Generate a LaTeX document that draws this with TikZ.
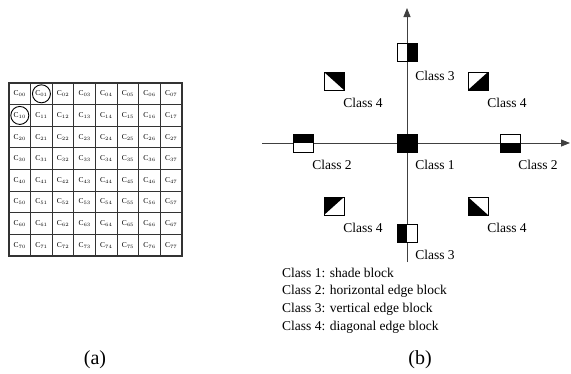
\documentclass[tikz,border=0pt]{standalone}
\usepackage{fontspec}
\setmainfont{Liberation Serif}
\usetikzlibrary{arrows.meta}
\begin{document}
\begin{tikzpicture}[x=1pt,y=-1pt,
  cell/.style={draw=black!80,line width=1.1pt,minimum width=21.6pt,minimum height=21.6pt,inner sep=0pt,font=\fontsize{7.5}{8}\selectfont},
  ring/.style={draw,line width=0.9pt,circle,minimum size=18pt,inner sep=0pt},
  blk/.style={draw,line width=0.8pt,fill=white,minimum width=20pt,minimum height=18pt,inner sep=0pt},
  full/.style={blk,fill=black},
  topblk/.style={blk,path picture={\fill[black] (path picture bounding box.north west) rectangle (path picture bounding box.east);}},
  botblk/.style={blk,path picture={\fill[black] (path picture bounding box.south west) rectangle (path picture bounding box.east);}},
  rightblk/.style={blk,path picture={\fill[black] (path picture bounding box.north east) rectangle (path picture bounding box.south);}},
  leftblk/.style={blk,path picture={\fill[black] (path picture bounding box.north west) rectangle (path picture bounding box.south);}},
  triNE/.style={blk,path picture={\fill[black] (path picture bounding box.north west) -- (path picture bounding box.north east) -- (path picture bounding box.south east) -- cycle;}},
  triSE/.style={blk,path picture={\fill[black] (path picture bounding box.south west) -- (path picture bounding box.north east) -- (path picture bounding box.south east) -- cycle;}},
  triNW/.style={blk,path picture={\fill[black] (path picture bounding box.south west) -- (path picture bounding box.north east) -- (path picture bounding box.north west) -- cycle;}},
  triSW/.style={blk,path picture={\fill[black] (path picture bounding box.north west) -- (path picture bounding box.south east) -- (path picture bounding box.south west) -- cycle;}},
  lbl/.style={font=\fontsize{13.5}{16}\selectfont,inner sep=0pt},
  leg/.style={lbl,anchor=west},
  axis/.style={draw=black!75,line width=0.8pt}
]
\useasboundingbox (0,0) rectangle (571,373);
% (a) grid
\foreach \i in {0,...,7}{
  \foreach \j in {0,...,7}{
    \node[cell] (c\i\j) at ({9+21.625*(\j+0.5)},{83+21.625*(\i+0.5)}) {C$_{\i\j}$};
  }
}
\node[ring] (r01) at (c01) {};
\node[ring] (r10) at (c10) {};
\node[font=\fontsize{20}{24}\selectfont] (la) at (95,360) {(a)};
% (b) axes
\coordinate (vb) at (407,262);
\coordinate (vt) at (407,8);
\coordinate (hl) at (262,143);
\coordinate (hr) at (570,143);
\draw[axis,-{Triangle[length=9pt,width=7pt]}] (vb) -- (vt);
\draw[axis,-{Triangle[length=9pt,width=7pt]}] (hl) -- (hr);
% blocks
\node[full] (b1) at (407,143) {};
\node[topblk] (b2l) at (303,143) {};
\node[botblk] (b2r) at (510,143) {};
\node[rightblk] (b3t) at (407,52) {};
\node[leftblk] (b3b) at (407,233) {};
\node[triNE] (b4ul) at (334,81) {};
\node[triSE] (b4ur) at (478,81) {};
\node[triNW] (b4ll) at (334,206) {};
\node[triSW] (b4lr) at (478,206) {};
% labels
\node[lbl] (t3t) at (435,76) {Class 3};
\node[lbl] (t4ul) at (363,103) {Class 4};
\node[lbl] (t4ur) at (507,103) {Class 4};
\node[lbl] (t2l) at (332,165) {Class 2};
\node[lbl] (t1) at (435,165) {Class 1};
\node[lbl] (t2r) at (538,165) {Class 2};
\node[lbl] (t4ll) at (363,228) {Class 4};
\node[lbl] (t4lr) at (507,228) {Class 4};
\node[lbl] (t3b) at (435,255) {Class 3};
% legend
\node[leg] (l1) at (282,273) {Class 1: shade block};
\node[leg] (l2) at (282,291) {Class 2: horizontal edge block};
\node[leg] (l3) at (282,309) {Class 3: vertical edge block};
\node[leg] (l4) at (282,327) {Class 4: diagonal edge block};
\node[font=\fontsize{20}{24}\selectfont] (lb) at (420,360) {(b)};
\end{tikzpicture}
\end{document}
